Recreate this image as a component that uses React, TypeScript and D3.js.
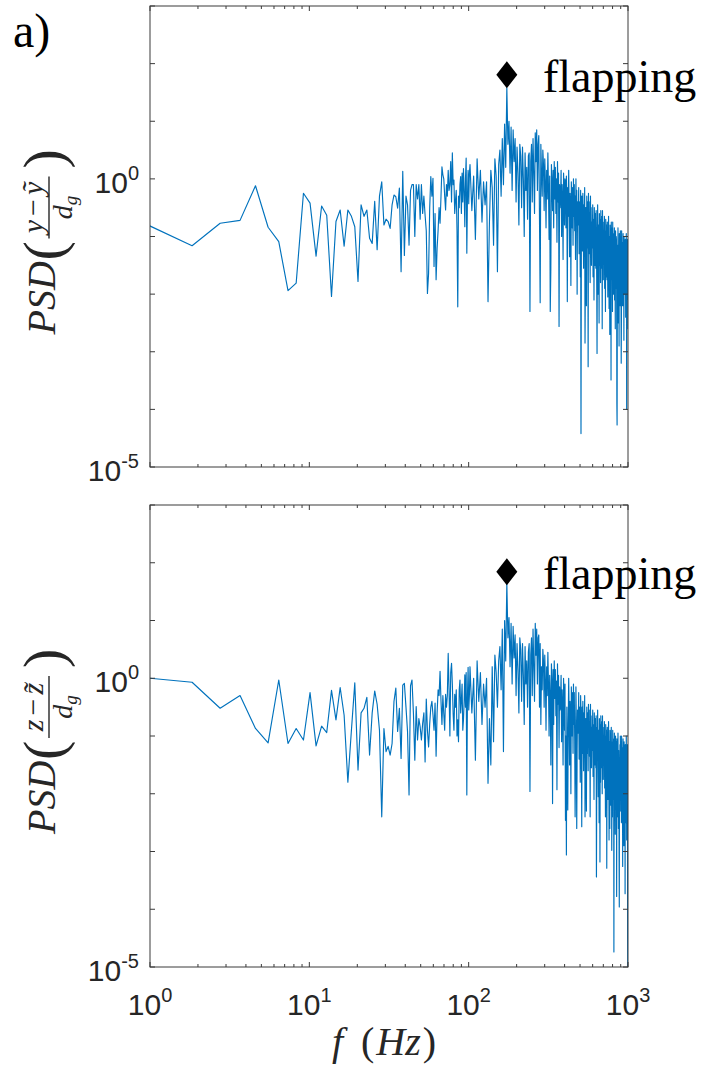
import React from 'react';
import * as d3 from 'd3';

// frequency bin width (Hz) and bins used
const DF = 0.9185;
const binsLow = d3.range(1, 111);
const binsHigh = d3.range(111, 1087, 3);
const bins = [...binsLow, ...binsHigh];
const freqs = bins.map((k) => k * DF);

// log10 of PSD, top panel (y - ỹ)
const topLow = [
  -0.77, -1.16, -0.77, -0.72, -0.12, -0.84, -1.09, -1.94, -1.81, -0.25,
  -0.42, -1.34, -0.47, -0.63, -2.04, -0.74, -0.54, -1.17, -0.54, -0.65,
  -0.83, -1.78, -0.45, -0.65, -0.54, -1.03, -1.12, -0.39, -1.23, -0.30,
  -0.05, -0.80, -0.70, -0.74, -0.86, -0.45, -0.28, -0.31, -0.51, -0.16,
  -1.61, 0.13, -1.33, -0.30, -0.45, -1.15, -0.20, -0.10, -0.10, -1.00,
  -0.10, -0.35, -0.10, -0.70, -0.10, -0.60, -0.30, -0.63, -0.90, -1.99,
  -1.64, -0.50, 0.04, -0.30, 0.01, -1.52, -0.60, -1.75, -1.20, -0.89,
  -0.50, -0.77, -0.30, 0.21, 0.07, 0.00, -0.30, -0.54, -0.10, -0.30,
  0.15, -0.20, -0.10, 0.30, -0.40, 0.45, -0.10, -0.02, -0.60, -0.37,
  -0.20, -0.90, -2.22, -0.30, -0.50, -0.10, 0.04, -0.60, 0.10, -0.40,
  0.18, -0.20, -0.83, 0.00, 0.36, -1.29, -0.30, 0.15, -0.43, 0.10,
];
const topHigh = [
  0.25, -0.55, 0.05, -1.05, 0.35, -0.35, 0.15, -0.75, -0.05, -0.45,
  -0.05, -2.13, -0.75, 0.15, -0.15, -1.15, 0.35, 0.05, -1.61, 0.25,
  0.5, -0.3, 0.7, -0.1, 0.95, 0.2, 1.58, 0.6, 1.0, 0.1,
  0.9, -0.2, 0.85, 0.3, 0.7, -0.4, 0.55, 0.1, -0.8, 0.6,
  0.4, -0.5, 0.55, 0.0, -1.0, 0.45, -0.2, 0.2, -0.7, 0.4,
  0.45, -2.3, 0.3, 0.6, -0.4, 0.7, 0.1, -0.6, 0.8, 0.3,
  0.85, -0.2, 0.6, 0.75, -0.7, -2.15, 0.6, 0.1, -0.3, 0.5,
  0.25, -0.55, 0.35, -0.05, -0.85, 0.15, -0.35, 0.45, -0.15, -1.05,
  0.05, -2.3, -1.55, 0.25, -0.05, -0.55, 0.15, -0.85, 0.3, -0.35,
  0.2, -0.6, 0.0, -1.1, 0.3, -0.4, 0.1, -2.56, -0.1, -0.5,
  -0.3, 0.15, -1.0, -0.1, -0.4, -1.4, 0.1, -0.2, -0.8, 0.0,
  -0.05, -0.85, 0.05, -0.35, -2.13, -0.15, -0.65, 0.15, -0.45, -1.35,
  -0.25, -0.55, -1.85, -0.05, -0.35, -0.85, -0.15, -1.15, 0.0, -0.65,
  -0.1, -0.9, -0.3, -1.4, 0.0, -0.7, -0.2, -2.0, -0.4, -0.8,
  -0.6, -0.15, -1.3, -0.4, -0.7, -1.7, -0.2, -4.42, -1.1, -0.3,
  -0.35, -1.25, -0.25, -0.7, -1.55, -0.45, -1.0, -0.15, -2.85, -1.75,
  -0.5, -0.9, -2.2, -0.3, -0.7, -1.2, -0.4, -3.26, -0.25, -1.0,
  -0.4, -1.3, -0.6, -1.8, -0.3, -1.1, -0.5, -1.5, -0.75, -1.2,
  -0.9, -0.45, -1.7, -0.7, -1.0, -2.1, -0.5, -0.8, -1.5, -0.6,
  -0.65, -1.55, -0.55, -1.0, -1.85, -3.03, -1.3, -0.45, -1.1, -2.0,
  -0.8, -1.1, -2.5, -0.6, -0.95, -1.5, -0.7, -1.8, -0.55, -1.25,
  -0.65, -1.55, -0.85, -2.6, -0.55, -1.35, -0.75, -1.75, -0.95, -1.45,
  -1.1, -0.65, -1.9, -0.9, -1.2, -2.3, -0.7, -1.0, -1.7, -0.8,
  -0.85, -1.75, -0.75, -1.2, -2.05, -0.95, -1.5, -0.65, -1.3, -2.25,
  -1.0, -1.35, -2.7, -0.8, -1.15, -1.7, -0.9, -3.49, -0.75, -1.5,
  -0.85, -1.75, -1.05, -2.3, -0.75, -1.55, -0.95, -2.0, -1.15, -1.65,
  -1.3, -0.85, -2.1, -1.1, -1.45, -2.6, -0.9, -1.25, -1.9, -1.0,
  -1.05, -1.9, -3.92, -4.27, -2.25, -1.15, -1.7, -0.85, -1.5, -2.5,
  -1.15, -1.5, -2.9, -0.95, -1.3, -1.85, -1.05, -2.2, -0.9, -1.6,
  -1.0, -1.9, -3.2, -2.4, -0.9, -1.7, -1.1, -2.2, -1.3, -1.8,
  -1.4, -0.95, -2.2, -1.2, -1.55, -2.8, -1.0, -1.35, -2.0, -1.1,
  -1.15, -2.0, -1.05, -1.5, -2.4, -1.25, -1.8, -0.95, -1.6, -4.0,
  -1.25, -1.7, -2.6, -1.05, -1.45, -2.1,
];

// log10 of PSD, bottom panel (z - z̃)
const botLow = [
  0.01, -0.07, -0.52, -0.30, -0.87, -1.12, -0.03, -1.13, -0.87, -1.07,
  -0.25, -1.17, -0.83, -0.94, -0.21, -0.72, -0.16, -0.64, -1.80, -0.90,
  -0.08, -1.59, -0.60, -0.52, -0.33, -1.33, -0.60, -0.22, -0.45, -0.90,
  -2.40, -0.87, -1.27, -1.18, -1.33, -1.13, -0.40, -0.17, -0.92, -0.52,
  -1.39, -0.12, -0.09, -0.50, -0.92, -2.02, -0.13, -0.03, -0.60, -1.42,
  -0.49, -1.07, -0.70, -0.84, -1.07, -0.78, -0.60, -1.45, -0.36, -0.90,
  -1.19, -0.79, -0.50, -0.40, -0.63, -0.90, -0.43, -1.35, -0.60, -0.20,
  -0.30, 0.12, -0.40, -0.80, -0.30, -0.62, -0.90, -0.28, -0.50, -0.30,
  0.43, -0.20, -1.00, 0.10, 0.26, -0.10, -0.62, -0.90, -0.28, -0.50,
  -0.20, -1.00, -0.72, -1.10, -0.20, -0.03, -0.60, -0.38, -0.10, -0.90,
  -0.72, -0.40, 0.06, -0.50, 0.10, -2.02, -0.30, 0.19, -0.55, -0.30,
];
const botHigh = [
  0.2, -0.6, 0.0, -1.42, 0.3, -0.4, 0.1, -0.8, -0.1, -0.5,
  0.0, -1.82, -0.7, -1.5, 0.2, -1.1, 0.4, 0.1, -0.5, 0.3,
  0.55, -0.2, 0.85, -1.27, 1.0, 0.3, 1.65, 0.7, 1.05, 0.2,
  0.95, -0.1, 0.9, 0.35, 0.75, -0.3, 0.6, 0.15, -0.6, 0.7,
  0.5, -0.4, 0.6, 0.05, -0.8, 0.55, -0.1, 0.3, -0.5, 0.45,
  0.6, -1.96, 0.4, 0.7, -0.3, 0.85, 0.2, -0.4, 0.95, 0.4,
  0.85, -0.1, 0.7, 0.75, -0.5, 0.6, -0.8, 0.2, -0.2, 0.5,
  0.3, -0.5, 0.4, -0.05, -0.9, 0.2, -0.3, 0.45, -0.1, -1.0,
  0.05, -0.3, -1.5, 0.25, -0.05, -2.17, 0.15, -0.8, 0.3, -0.35,
  0.15, -0.65, -0.05, -1.93, 0.25, -0.45, 0.05, -1.2, -0.15, -0.55,
  -0.4, 0.05, -1.1, -0.2, -0.5, -1.5, 0.0, -0.3, -0.9, -0.1,
  -2.46, -1.0, -3.06, -0.5, -1.3, -2.28, -0.8, 0.0, -0.6, -1.5,
  -0.4, -0.7, -2.0, -0.15, -0.5, -1.0, -0.25, -1.3, -0.1, -0.8,
  -0.25, -1.05, -2.4, -1.55, -0.15, -0.85, -2.6, -1.25, -0.55, -0.95,
  -0.7, -0.25, -1.4, -0.5, -0.8, -1.8, -0.3, -0.6, -1.2, -2.57,
  -0.5, -1.3, -0.4, -0.85, -1.6, -0.6, -1.1, -0.3, -2.4, -1.8,
  -0.7, -1.0, -2.3, -0.5, -0.8, -1.3, -0.6, -1.6, -0.45, -1.1,
  -0.55, -1.35, -0.75, -2.4, -0.45, -1.15, -0.65, -1.55, -0.85, -1.25,
  -1.0, -0.55, -1.7, -0.8, -1.1, -2.1, -0.6, -0.9, -1.5, -0.7,
  -0.75, -1.55, -0.65, -3.44, -1.85, -0.85, -1.3, -0.55, -1.15, -2.05,
  -0.9, -1.2, -2.5, -0.7, -1.0, -3.18, -0.8, -1.8, -0.65, -1.3,
  -0.75, -1.55, -0.95, -2.0, -0.65, -1.35, -0.85, -1.75, -1.05, -1.45,
  -1.2, -0.75, -1.9, -1.0, -1.3, -2.4, -0.8, -1.1, -1.7, -0.9,
  -3.29, -1.75, -0.85, -1.3, -2.1, -1.0, -1.55, -0.75, -1.35, -2.8,
  -1.1, -1.45, -2.6, -0.9, -1.2, -1.75, -1.0, -2.2, -0.85, -1.55,
  -2.98, -1.8, -1.1, -2.4, -0.9, -1.65, -1.05, -2.1, -1.25, -4.74,
  -1.4, -0.95, -2.2, -1.2, -1.55, -2.7, -1.0, -1.35, -2.0, -1.1,
  -1.15, -3.78, -1.05, -1.5, -2.4, -1.25, -1.8, -0.95, -1.6, -2.6,
  -1.25, -1.6, -3.0, -3.96, -1.4, -1.95, -1.15, -2.3, -1.0, -1.7,
  -1.1, -2.0, -1.3, -2.5, -1.0, -1.8, -1.2, -2.3, -1.4, -3.26,
  -1.5, -1.05, -2.3, -1.3, -1.65, -2.9, -1.1, -1.45, -2.1, -1.2,
  -1.25, -3.73, -1.15, -1.6, -2.5, -1.35, -1.9, -1.0, -1.7, -2.8,
  -1.35, -1.8, -2.7, -1.15, -4.5, -5.3,
];

const peakFreq = [173.6, 173.6];
const peakPSD = [64, 70];
const yDomain = [1e-5, 1e3];
const xDomain = [1, 1000];
const xMajor = [1, 10, 100, 1000];
const xTickExp = ['0', '1', '2', '3'];
const yLabelTicks = [
  { v: 1, sup: '0' },
  { v: 1e-5, sup: '-5' },
];

const LINE = '#0072BD';
const AXIS = '#3a3a3a';
const TXT = '#262626';
const SERIF = "'Liberation Serif', 'Times New Roman', serif";
const SANS = "'Liberation Sans', Arial, Helvetica, sans-serif";

const L = 150;
const R = 628;

const panels = [
  { id: 'top', top: 6, bottom: 467, values: [...topLow, ...topHigh], pf: peakFreq[0], pp: peakPSD[0], v: 'y', tilde: 'ỹ', xLabels: false },
  { id: 'bot', top: 505, bottom: 967, values: [...botLow, ...botHigh], pf: peakFreq[1], pp: peakPSD[1], v: 'z', tilde: 'z\u0303', xLabels: true },
];

function Panel({ p, x }: any) {
  const y = d3.scaleLog().domain(yDomain).range([p.bottom, p.top]);
  const line = d3
    .line<number>()
    .x((_, i) => x(freqs[i]))
    .y((v) => y(Math.pow(10, v)));
  const minor = x.ticks().filter((t: number) => !xMajor.includes(t));
  const yTicks = d3.range(-5, 4).map((e) => Math.pow(10, e));
  const cy = (p.top + p.bottom) / 2 + 4;
  return (
    <g>
      <defs>
        <clipPath id={`clip-${p.id}`}>
          <rect x={L} y={p.top} width={R - L} height={p.bottom - p.top} />
        </clipPath>
      </defs>
      <path d={line(p.values) || ''} fill="none" stroke={LINE} strokeWidth={1.15} clipPath={`url(#clip-${p.id})`} strokeLinejoin="round" />
      <rect x={L} y={p.top} width={R - L} height={p.bottom - p.top} fill="none" stroke={AXIS} strokeWidth={1} />
      {yTicks.map((t) => (
        <g key={`yt${t}`}>
          <line x1={L} x2={L + 5} y1={y(t)} y2={y(t)} stroke={AXIS} />
          <line x1={R} x2={R - 5} y1={y(t)} y2={y(t)} stroke={AXIS} />
        </g>
      ))}
      {xMajor.map((t) => (
        <g key={`xM${t}`}>
          <line x1={x(t)} x2={x(t)} y1={p.bottom} y2={p.bottom - 5} stroke={AXIS} />
          <line x1={x(t)} x2={x(t)} y1={p.top} y2={p.top + 5} stroke={AXIS} />
        </g>
      ))}
      {minor.map((t: number) => (
        <g key={`xm${t}`}>
          <line x1={x(t)} x2={x(t)} y1={p.bottom} y2={p.bottom - 3} stroke={AXIS} />
          <line x1={x(t)} x2={x(t)} y1={p.top} y2={p.top + 3} stroke={AXIS} />
        </g>
      ))}
      {yLabelTicks.map((t) => (
        <text key={`yl${t.sup}`} x={139} y={y(t.v) + 14} textAnchor="end" fontFamily={SANS} fontSize={30} fill={TXT}>
          10<tspan dy={-13} fontSize={20}>{t.sup}</tspan>
        </text>
      ))}
      {p.xLabels &&
        xMajor.map((t, i) => (
          <text key={`xl${t}`} x={x(t)} y={1015} textAnchor="middle" fontFamily={SANS} fontSize={30} fill={TXT}>
            10<tspan dy={-13} fontSize={20}>{xTickExp[i]}</tspan>
          </text>
        ))}
      {/* peak marker */}
      <path
        d="M0,-13.5 L10.5,0 L0,13.5 L-10.5,0 Z"
        transform={`translate(${x(p.pf)},${y(p.pp)})`}
        fill="#000"
      />
      <text x={543} y={y(p.pp) + 17} fontFamily={SERIF} fontSize={46} fill="#000">
        flapping
      </text>
      {/* y axis label */}
      <g transform={`translate(55,${cy}) rotate(-90)`} fontFamily={SERIF} fill={TXT}>
        <text x={-94} y={0} fontSize={40} fontStyle="italic">PSD</text>
        <text x={-20} y={8} fontSize={58}>(</text>
        <text x={33} y={-12} fontSize={30} textAnchor="middle">
          <tspan fontStyle="italic">{p.v}</tspan>
          <tspan dx={4}>−</tspan>
          <tspan dx={4} fontStyle="italic">{p.tilde}</tspan>
        </text>
        <line x1={2} x2={64} y1={-6} y2={-6} stroke={TXT} strokeWidth={1.4} />
        <text x={33} y={17} fontSize={28} textAnchor="middle" fontStyle="italic">
          d<tspan fontSize={19} dy={5}>g</tspan>
        </text>
        <text x={72} y={8} fontSize={58}>)</text>
      </g>
    </g>
  );
}

export default function App() {
  const x = d3.scaleLog().domain(xDomain).range([L, R]);
  return (
    <svg width={704} height={1069} style={{ position: 'absolute', left: 0, top: 0, background: '#fff' }}>
      <rect width={704} height={1069} fill="#fff" />
      <text x={13} y={47} fontFamily={SERIF} fontSize={48} fill="#000">a)</text>
      {panels.map((p) => (
        <Panel key={p.id} p={p} x={x} />
      ))}
      <text x={384} y={1055} textAnchor="middle" fontFamily={SERIF} fontSize={40} fill={TXT}>
        <tspan fontStyle="italic">f</tspan>
        <tspan dx={18}>(</tspan>
        <tspan fontStyle="italic" dx={2}>Hz</tspan>
        <tspan dx={2}>)</tspan>
      </text>
    </svg>
  );
}
